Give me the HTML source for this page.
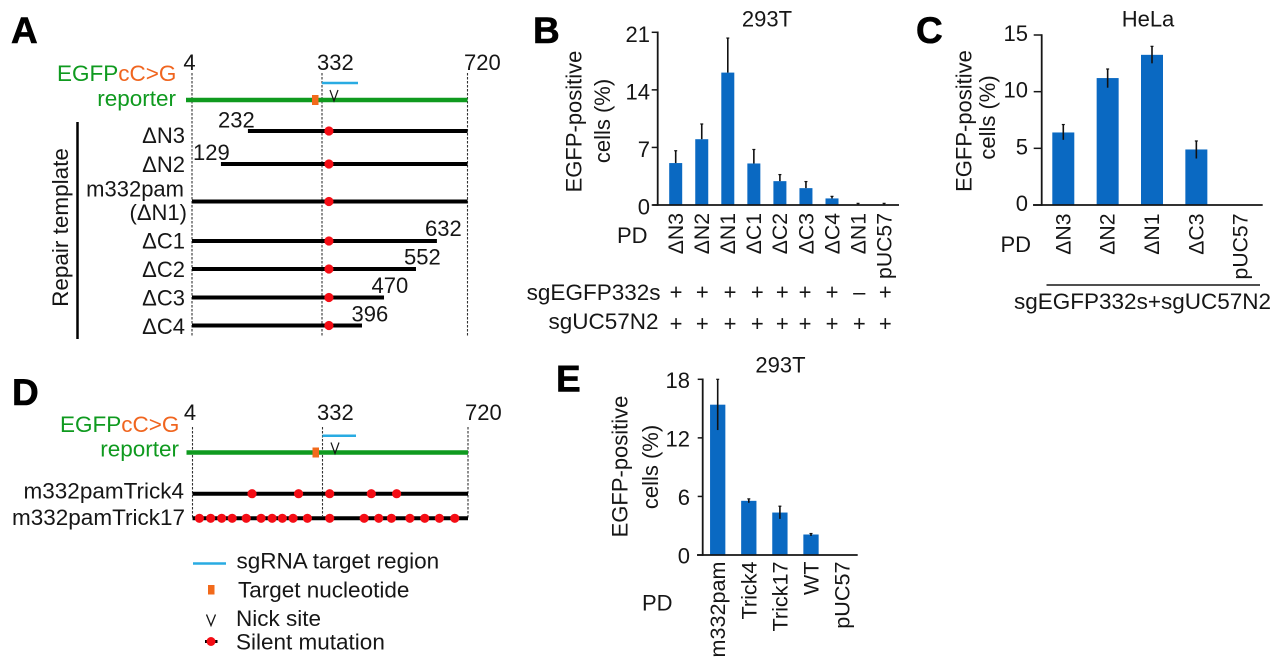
<!DOCTYPE html>
<html lang="en">
<head>
<meta charset="utf-8">
<title>EGFP repair template figure</title>
<style>
html,body{margin:0;padding:0;background:#fff;}
svg{display:block;}
text{font-family:"Liberation Sans",Arial,sans-serif;font-size:22px;fill:#161616;}
text.big{font-size:22.5px;}
.panel{font-size:37px;font-weight:bold;fill:#000;stroke:#000;stroke-width:.6px;}
.green{fill:#0f9a1f;}
.orange{fill:#f0651f;}
</style>
</head>
<body>
<svg id="figure" width="1280" height="669" viewBox="0 0 1280 669" xmlns="http://www.w3.org/2000/svg">

<!-- Panel A labels -->
<text class="panel" x="11" y="43">A</text>
<text x="189.5" y="70" text-anchor="middle">4</text>
<text x="317" y="70">332</text>
<text x="464" y="70">720</text>
<text class="big" x="57" y="81"><tspan class="green">EGFP</tspan><tspan class="orange">cC&gt;G</tspan></text>
<text class="green big" x="176" y="106" text-anchor="end">reporter</text>
<text x="185" y="143" text-anchor="end">ΔN3</text>
<text x="185" y="172" text-anchor="end">ΔN2</text>
<text x="184" y="196.5" text-anchor="end">m332pam</text>
<text x="187" y="220" text-anchor="end">(ΔN1)</text>
<text x="185" y="248.5" text-anchor="end">ΔC1</text>
<text x="185" y="277" text-anchor="end">ΔC2</text>
<text x="185" y="305.5" text-anchor="end">ΔC3</text>
<text x="185" y="334" text-anchor="end">ΔC4</text>
<text x="218" y="127.5">232</text>
<text x="193" y="160">129</text>
<text x="425" y="236">632</text>
<text x="404" y="264.5">552</text>
<text x="371.5" y="293">470</text>
<text x="351.5" y="321.5">396</text>
<line x1="77.5" y1="122" x2="77.5" y2="339" stroke="#000" stroke-width="2.5"/>
<text class="big" transform="translate(68 227.5) rotate(-90)" text-anchor="middle">Repair template</text>

<!-- Panel B labels -->
<text class="panel" x="533" y="43">B</text>
<text x="767" y="26.5" text-anchor="middle">293T</text>
<text transform="translate(581.5 121.5) rotate(-90)" text-anchor="middle">EGFP-positive</text>
<text transform="translate(610 121) rotate(-90)" text-anchor="middle">cells (%)</text>
<text x="617" y="243">PD</text>
<text class="big" x="660.5" y="300" text-anchor="end">sgEGFP332s</text>
<text class="big" x="658.5" y="329" text-anchor="end">sgUC57N2</text>

<!-- Panel C labels -->
<text class="panel" x="916" y="43">C</text>
<text x="1148" y="26.5" text-anchor="middle">HeLa</text>
<text transform="translate(971.5 121) rotate(-90)" text-anchor="middle">EGFP-positive</text>
<text transform="translate(995 117.5) rotate(-90)" text-anchor="middle">cells (%)</text>
<text x="1000.5" y="252">PD</text>
<line x1="1046.5" y1="285" x2="1260" y2="285" stroke="#161616" stroke-width="1.5"/>
<text class="big" x="1014" y="309">sgEGFP332s+sgUC57N2</text>

<!-- Panel D labels -->
<text class="panel" x="12" y="405">D</text>
<text x="190" y="420" text-anchor="middle">4</text>
<text x="317" y="420">332</text>
<text x="465" y="420">720</text>
<text class="big" x="60" y="432"><tspan class="green">EGFP</tspan><tspan class="orange">cC&gt;G</tspan></text>
<text class="green big" x="179" y="456.5" text-anchor="end">reporter</text>
<text class="big" x="184" y="498.5" text-anchor="end">m332pamTrick4</text>
<text class="big" x="185" y="525" text-anchor="end">m332pamTrick17</text>

<!-- Legend -->
<line x1="193" y1="563.5" x2="226" y2="563.5" stroke="#29abe2" stroke-width="2.5"/>
<text class="big" x="236.5" y="568.5">sgRNA target region</text>
<rect x="208" y="585" width="6.5" height="9.5" fill="#f26a1b"/>
<text class="big" x="238" y="597.5">Target nucleotide</text>
<path d="M206.5 614.5 L211 625.5 L215.5 614.5" fill="none" stroke="#161616" stroke-width="1.3"/>
<text class="big" x="236" y="626">Nick site</text>
<line x1="205" y1="641.5" x2="217.5" y2="641.5" stroke="#000" stroke-width="3"/>
<circle cx="211" cy="641.5" r="4.5" fill="#f40d15"/>
<text class="big" x="236" y="649.5">Silent mutation</text>

<!-- Panel E labels -->
<text class="panel" x="556" y="391.5">E</text>
<text x="780.5" y="372.5" text-anchor="middle">293T</text>
<text transform="translate(627.5 466.5) rotate(-90)" text-anchor="middle">EGFP-positive</text>
<text transform="translate(658 467) rotate(-90)" text-anchor="middle">cells (%)</text>
<text x="642" y="610.5">PD</text>
</svg>

<script>
// Panel B data
const bCategories = ['ΔN3','ΔN2','ΔN1','ΔC1','ΔC2','ΔC3','ΔC4','ΔN1','pUC57'];
const bValues = [5.1, 8.0, 16.1, 5.05, 2.9, 2.05, 0.8, 0.05, 0.05];
const bErrTop = [6.6, 9.85, 20.3, 6.75, 3.7, 2.85, 1.05, 0.2, 0.2];
const bErrBottom = [5.1, 8.0, 16.1, 5.05, 2.9, 2.05, 0.8, 0.05, 0.05];
const bTicks = [0, 7, 14, 21];
const bGuide1 = ['+','+','+','+','+','+','+','–','+'];
const bGuide2 = ['+','+','+','+','+','+','+','+','+'];

// Panel C data
const cCategories = ['ΔN3','ΔN2','ΔN1','ΔC3','pUC57'];
const cValues = [6.4, 11.2, 13.25, 4.9, 0];
const cErrTop = [7.1, 12.0, 14.0, 5.65, 0];
const cErrBottom = [5.75, 10.35, 12.5, 4.1, 0];
const cTicks = [0, 5, 10, 15];

// Panel E data
const eCategories = ['m332pam','Trick4','Trick17','WT','pUC57'];
const eValues = [15.4, 5.55, 4.35, 2.1, 0];
const eErrTop = [18.0, 5.75, 5.0, 2.2, 0];
const eErrBottom = [12.8, 5.35, 3.7, 1.95, 0];
const eTicks = [0, 6, 12, 18];

// Schematic data: template extents and mutation sites, in percent of the drawn ruler
const aTemplates = ['dN3','dN2','m332pam','dC1','dC2','dC3','dC4'];
const aStarts = [20.3, 10.5, 0, 0, 0, 0, 0];
const aEnds = [100, 100, 100, 88.9, 81.3, 69.7, 61.7];
const aSite = [49.7];
const dTrick4Sites = [21.6, 38.5, 49.8, 64.9, 74.1];
const dTrick17Sites = [2.5, 6.6, 10.6, 14.4, 19.5, 24.9, 28.9, 32.6, 36.5, 41.7, 49.8, 62.3, 67.6, 72.2, 78.9, 84.3, 89.6, 95.2];

const NS = 'http://www.w3.org/2000/svg';
const svg = document.getElementById('figure');

function mk(tag, attrs, name, text) {
  const el = document.createElementNS(NS, tag);
  for (const k in attrs) el.setAttribute(k, attrs[k]);
  
  
  if (text !== undefined) el.textContent = text;
  svg.appendChild(el);
  return el;
}

function barChart(id, cats, vals, top, bot, ticks, L) {
  const yMax = ticks[ticks.length - 1];
  const y = v => L.y0 - (v / yMax) * (L.y0 - L.yTop);
  const x = i => L.x0 + i * L.step;
  vals.forEach((v, i) => {
    if (v <= 0) return;
    mk('rect', {x: x(i) - L.barW / 2, y: y(v), width: L.barW, height: L.y0 - y(v), fill: '#0a69c2'}, id + '-bar-' + i);
  });
  vals.forEach((v, i) => {
    if (top[i] <= 0) return;
    mk('line', {x1: x(i), x2: x(i), y1: y(top[i]), y2: y(bot[i]), stroke: '#111', 'stroke-width': 1.6}, id + '-error-bar-' + i);
    mk('line', {x1: x(i) - 1.5, x2: x(i) + 1.5, y1: y(top[i]), y2: y(top[i]), stroke: '#111', 'stroke-width': 1.2}, id + '-error-cap-' + i);
  });
  mk('line', {x1: L.axisX, x2: L.axisX, y1: L.yTop - 0.8, y2: L.y0 + 0.8, stroke: '#161616', 'stroke-width': 1.8}, id + '-y-axis');
  mk('line', {x1: L.axisStart, x2: L.axisEnd, y1: L.y0, y2: L.y0, stroke: '#161616', 'stroke-width': 1.8}, id + '-x-axis');
  ticks.forEach(t => {
    mk('line', {x1: L.axisX - L.tickLen, x2: L.axisX, y1: y(t), y2: y(t), stroke: '#161616', 'stroke-width': 1.5}, id + '-y-tick-' + t);
    mk('text', {x: L.labelX, y: y(t) + L.labelDy, 'text-anchor': 'end'}, id + '-y-tick-label-' + t, String(t));
  });
  cats.forEach((c, i) => {
    const bx = x(i) + L.catDx;
    mk('text', {transform: 'translate(' + bx + ' ' + L.catY + ') rotate(-90)', 'text-anchor': 'end', style: 'font-size:' + L.catSize + 'px'}, id + '-category-label-' + i, c);
  });
}

barChart('panel-b', bCategories, bValues, bErrTop, bErrBottom, bTicks, {
  x0: 675.7, step: 26.05, barW: 13, y0: 205, yTop: 32.3, axisX: 657.7, axisStart: 652.5, axisEnd: 899,
  tickLen: 6, labelX: 650, labelDy: 9.5, catDx: 7.3, catY: 213, catSize: 21.2
});
barChart('panel-c', cCategories, cValues, cErrTop, cErrBottom, cTicks, {
  x0: 1063.3, step: 44.35, barW: 22, y0: 205, yTop: 35, axisX: 1041.7, axisStart: 1033, axisEnd: 1262.7,
  tickLen: 8, labelX: 1028, labelDy: 6, catDx: 7, catY: 213.5, catSize: 21.2
});
barChart('panel-e', eCategories, eValues, eErrTop, eErrBottom, eTicks, {
  x0: 717.7, step: 31.1, barW: 15.3, y0: 555, yTop: 379.3, axisX: 702.7, axisStart: 697, axisEnd: 857.7,
  tickLen: 5, labelX: 690, labelDy: 8.5, catDx: 7.5, catY: 561.5, catSize: 21.6
});

// Guide +/- rows in panel B (hand-set column positions, as in the figure)
function guideRow(marks, baseline, prefix) {
  const columns = [676, 702.3, 730, 757.3, 782.3, 805, 832, 859.3, 885.3];
  marks.forEach((g, i) => {
    mk('text', {x: columns[i], y: baseline, 'text-anchor': 'middle'}, prefix + '-mark-' + i, g);
  });
}
guideRow(bGuide1, 299.5, 'sgegfp332s');
guideRow(bGuide2, 331, 'sguc57n2');

// Schematic helpers
function reporter(prefix, R) {
  const rx = p => R.left + (p / 100) * (R.right - R.left);
  [R.left, R.mid, R.right].forEach((dx, i) => {
    mk('line', {x1: dx, x2: dx, y1: R.dashTop, y2: R.dashBottom[i], stroke: '#333', 'stroke-width': 1.1, 'stroke-dasharray': '2.5 1.5'}, prefix + '-ruler-guide-' + i);
  });
  mk('line', {x1: R.left - 6, x2: R.right, y1: R.greenY, y2: R.greenY, stroke: '#0f9a1f', 'stroke-width': 4.5}, prefix + '-reporter-line');
  mk('rect', {x: R.orangeX, y: R.greenY - 5, width: 6.5, height: 10, fill: '#f26a1b'}, prefix + '-target-nucleotide');
  mk('line', {x1: R.mid, x2: R.blueEnd, y1: R.blueY, y2: R.blueY, stroke: '#29abe2', 'stroke-width': 2.5}, prefix + '-sgrna-target');
  mk('path', {d: 'M' + (R.nickX - 4) + ' ' + (R.greenY - 10) + ' L' + R.nickX + ' ' + (R.greenY + 1) + ' L' + (R.nickX + 4) + ' ' + (R.greenY - 10), fill: 'none', stroke: '#161616', 'stroke-width': 1.2}, prefix + '-nick-site');
  return rx;
}

const rxA = reporter('a', {left: 192, mid: 322, right: 467.5, dashTop: 73, dashBottom: [336, 336, 336], greenY: 100, orangeX: 312, blueEnd: 358, blueY: 83, nickX: 334});
function drawTemplates() {
  const rows = [131, 164, 201.5, 241, 269, 297.5, 325.5];
  aTemplates.forEach((t, i) => {
    mk('line', {x1: rxA(aStarts[i]), x2: rxA(aEnds[i]), y1: rows[i], y2: rows[i], stroke: '#000', 'stroke-width': 4}, 'template-line-' + t);
    mk('circle', {cx: rxA(aSite[0]), cy: rows[i], r: 4.6, fill: '#f40d15'}, 'template-mutation-' + t);
  });
}
drawTemplates();

const rxD = reporter('d', {left: 192.5, mid: 322.5, right: 468, dashTop: 427, dashBottom: [518, 516, 518], greenY: 452.5, orangeX: 312.5, blueEnd: 356, blueY: 435.7, nickX: 335});
mk('line', {x1: rxD(0), x2: rxD(100), y1: 493.7, y2: 493.7, stroke: '#000', 'stroke-width': 4}, 'trick4-line');
mk('line', {x1: rxD(0), x2: rxD(100), y1: 518.3, y2: 518.3, stroke: '#000', 'stroke-width': 4}, 'trick17-line');
dTrick4Sites.forEach((p, i) => {
  mk('circle', {cx: rxD(p), cy: 493.7, r: 4.6, fill: '#f40d15'}, 'trick4-mutation-' + i);
});
dTrick17Sites.forEach((p, i) => {
  mk('circle', {cx: rxD(p), cy: 518.3, r: 4.6, fill: '#f40d15'}, 'trick17-mutation-' + i);
});
</script>
</body>
</html>
